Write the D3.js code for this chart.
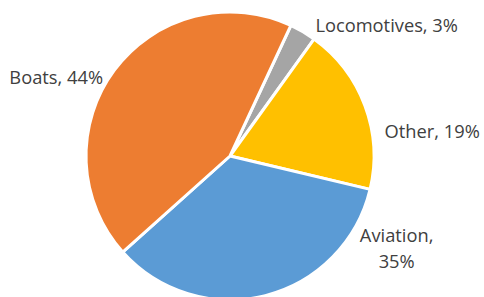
<!DOCTYPE html>
<html>
<head>
<meta charset="utf-8">
<script src="https://cdn.jsdelivr.net/npm/d3@7"></script>
<style>
  body { margin: 0; background: #fff; }
</style>
</head>
<body>
<svg id="chart" width="484" height="297"></svg>
<script>
const categories = ["Locomotives", "Other", "Aviation", "Boats"];
const shares = [3, 19, 35, 44];
const colors = ["#A5A5A5", "#FFC000", "#5B9BD5", "#ED7D31"];

const width = 484, height = 297;
const cx = 230, cy = 156, radius = 144;
const svg = d3.select("#chart");

const data = categories.map((c, i) => ({ name: c, value: shares[i], color: colors[i] }));

// first slice starts a bit past 12 o'clock, like the excel chart
const start = 25 * Math.PI / 180;
const pie = d3.pie().sort(null).value(d => d.value)
  .startAngle(start).endAngle(start + 2 * Math.PI);
const arcs = pie(data);

const arc = d3.arc().innerRadius(0).outerRadius(radius);

const g = svg.append("g").attr("transform", `translate(${cx},${cy})`);

g.selectAll("path")
  .data(arcs)
  .join("path")
  .attr("d", arc)
  .attr("fill", d => d.data.color)
  .attr("stroke", "#fff")
  .attr("stroke-width", 3)
  .attr("stroke-linejoin", "round");

// labels sit outside the pie, nudged the way excel lays them out
const labelArc = d3.arc().innerRadius(radius * 1.15).outerRadius(radius * 1.15);
const nudge = {
  Locomotives: [73, 19, "middle", false],
  Other: [47, 40, "middle", false],
  Aviation: [126, -75, "middle", true],
  Boats: [6, 27, "end", false]
};

const labels = g.append("g")
  .attr("font-family", "Open Sans, sans-serif")
  .attr("font-size", 18.3)
  .attr("fill", "#404040");

arcs.forEach(d => {
  const [x, y] = labelArc.centroid(d);
  const [dx, dy, anchor, wrap] = nudge[d.data.name];
  const t = labels.append("text")
    .attr("text-anchor", anchor)
    .attr("x", x + dx)
    .attr("y", y + dy);
  if (wrap) {
    t.append("tspan").attr("x", x + dx).text(d.data.name + ",");
    t.append("tspan").attr("x", x + dx).attr("dy", 26).text(d.data.value + "%");
  } else {
    t.text(`${d.data.name}, ${d.data.value}%`);
  }
});
</script>
</body>
</html>
